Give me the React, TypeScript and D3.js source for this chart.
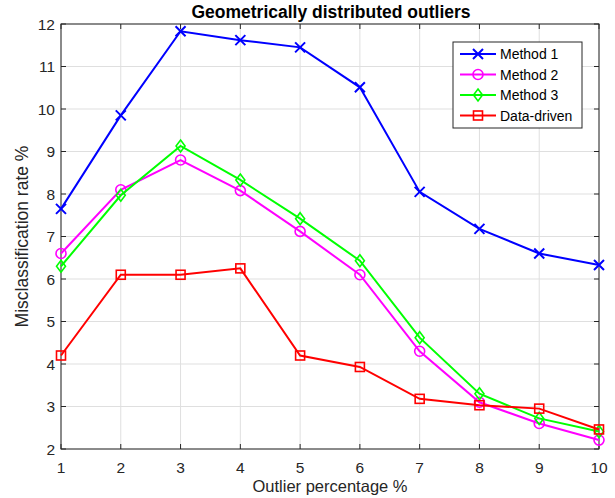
import React from "react";
import * as d3 from "d3";

const percentages = [1, 2, 3, 4, 5, 6, 7, 8, 9, 10];
const method1 = [7.65, 9.85, 11.83, 11.62, 11.45, 10.51, 8.05, 7.18, 6.6, 6.33];
const method2 = [6.6, 8.1, 8.8, 8.08, 7.12, 6.1, 4.3, 3.1, 2.6, 2.21];
const method3 = [6.3, 7.97, 9.13, 8.33, 7.42, 6.43, 4.62, 3.3, 2.72, 2.41];
const dataDriven = [4.2, 6.1, 6.1, 6.25, 4.2, 3.93, 3.18, 3.03, 2.95, 2.46];
const yTicks = [2, 3, 4, 5, 6, 7, 8, 9, 10, 11, 12];

const series = [
  { name: "Method 1", values: method1, color: "#0000ff", marker: "x" },
  { name: "Method 2", values: method2, color: "#ff00ff", marker: "o" },
  { name: "Method 3", values: method3, color: "#00ff00", marker: "d" },
  { name: "Data-driven", values: dataDriven, color: "#ff0000", marker: "s" },
];

const width = 615;
const height = 498;
const margin = { top: 24, right: 16, bottom: 49, left: 61 };
const font = "Liberation Sans, Arial, sans-serif";
const ink = "#262626";

function Marker({ kind, x, y, color }: { kind: string; x: number; y: number; color: string }) {
  const sw = 1.6;
  if (kind === "x") {
    const r = 5;
    return (
      <path
        d={`M${x - r},${y - r}L${x + r},${y + r}M${x - r},${y + r}L${x + r},${y - r}`}
        stroke={color}
        strokeWidth={sw + 0.4}
        fill="none"
      />
    );
  }
  if (kind === "o") {
    return <circle cx={x} cy={y} r={5} stroke={color} strokeWidth={sw} fill="none" />;
  }
  if (kind === "d") {
    const r = 6;
    return (
      <path
        d={`M${x},${y - r}L${x + r * 0.75},${y}L${x},${y + r}L${x - r * 0.75},${y}Z`}
        stroke={color}
        strokeWidth={sw}
        fill="none"
      />
    );
  }
  return <rect x={x - 4.5} y={y - 4.5} width={9} height={9} stroke={color} strokeWidth={sw} fill="none" />;
}

export default function App() {
  const innerW = width - margin.left - margin.right;
  const innerH = height - margin.top - margin.bottom;
  const x = d3.scaleLinear().domain([1, 10]).range([margin.left, margin.left + innerW]);
  const y = d3.scaleLinear().domain([2, 12]).range([margin.top + innerH, margin.top]);
  const lineGen = d3
    .line<number>()
    .x((_, i) => x(percentages[i]))
    .y((d) => y(d));

  const x0 = margin.left;
  const x1 = margin.left + innerW;
  const y0 = margin.top + innerH;
  const y1 = margin.top;

  const legendX = 453;
  const legendY = 42;

  return (
    <svg width={width} height={height} style={{ position: "absolute", left: 0, top: 0 }}>
      <rect width={width} height={height} fill="#fff" />
      {/* grid */}
      {percentages.map((p) => (
        <line key={"gx" + p} x1={x(p)} x2={x(p)} y1={y0} y2={y1} stroke="#dfdfdf" strokeWidth={1} />
      ))}
      {yTicks.map((t) => (
        <line key={"gy" + t} x1={x0} x2={x1} y1={y(t)} y2={y(t)} stroke="#dfdfdf" strokeWidth={1} />
      ))}
      {/* box */}
      <rect x={x0} y={y1} width={innerW} height={innerH} fill="none" stroke={ink} strokeWidth={1} />
      {/* ticks */}
      {percentages.map((p) => (
        <g key={"tx" + p}>
          <line x1={x(p)} x2={x(p)} y1={y0} y2={y0 - 5} stroke={ink} />
          <line x1={x(p)} x2={x(p)} y1={y1} y2={y1 + 5} stroke={ink} />
          <text x={x(p)} y={473} textAnchor="middle" fontFamily={font} fontSize={15.5} fill={ink}>
            {p}
          </text>
        </g>
      ))}
      {yTicks.map((t) => (
        <g key={"ty" + t}>
          <line x1={x0} x2={x0 + 5} y1={y(t)} y2={y(t)} stroke={ink} />
          <line x1={x1} x2={x1 - 5} y1={y(t)} y2={y(t)} stroke={ink} />
          <text x={55} y={y(t) + 5.5} textAnchor="end" fontFamily={font} fontSize={15.5} fill={ink}>
            {t}
          </text>
        </g>
      ))}
      {/* series */}
      {series.map((s) => (
        <g key={s.name}>
          <path d={lineGen(s.values) || ""} fill="none" stroke={s.color} strokeWidth={2} />
          {s.values.map((v, i) => (
            <Marker key={i} kind={s.marker} x={x(percentages[i])} y={y(v)} color={s.color} />
          ))}
        </g>
      ))}
      {/* title and labels */}
      <text x={331} y={18} textAnchor="middle" fontFamily={font} fontSize={17.5} fontWeight="bold" fill="#000">
        Geometrically distributed outliers
      </text>
      <text x={330} y={492} textAnchor="middle" fontFamily={font} fontSize={16.5} fill={ink}>
        Outlier percentage %
      </text>
      <text
        transform={`translate(28,${(y0 + y1) / 2}) rotate(-90)`}
        textAnchor="middle"
        fontFamily={font}
        fontSize={17.5}
        fill={ink}
      >
        Misclassification rate %
      </text>
      {/* legend */}
      <rect x={legendX} y={legendY} width={129} height={86} fill="#fff" stroke={ink} strokeWidth={1} />
      {series.map((s, i) => {
        const ly = legendY + 12 + i * 20.5;
        return (
          <g key={"lg" + s.name}>
            <line x1={legendX + 7} x2={legendX + 43} y1={ly} y2={ly} stroke={s.color} strokeWidth={2} />
            <Marker kind={s.marker} x={legendX + 25} y={ly} color={s.color} />
            <text x={legendX + 47} y={ly + 5} fontFamily={font} fontSize={14} fill="#000">
              {s.name}
            </text>
          </g>
        );
      })}
    </svg>
  );
}
